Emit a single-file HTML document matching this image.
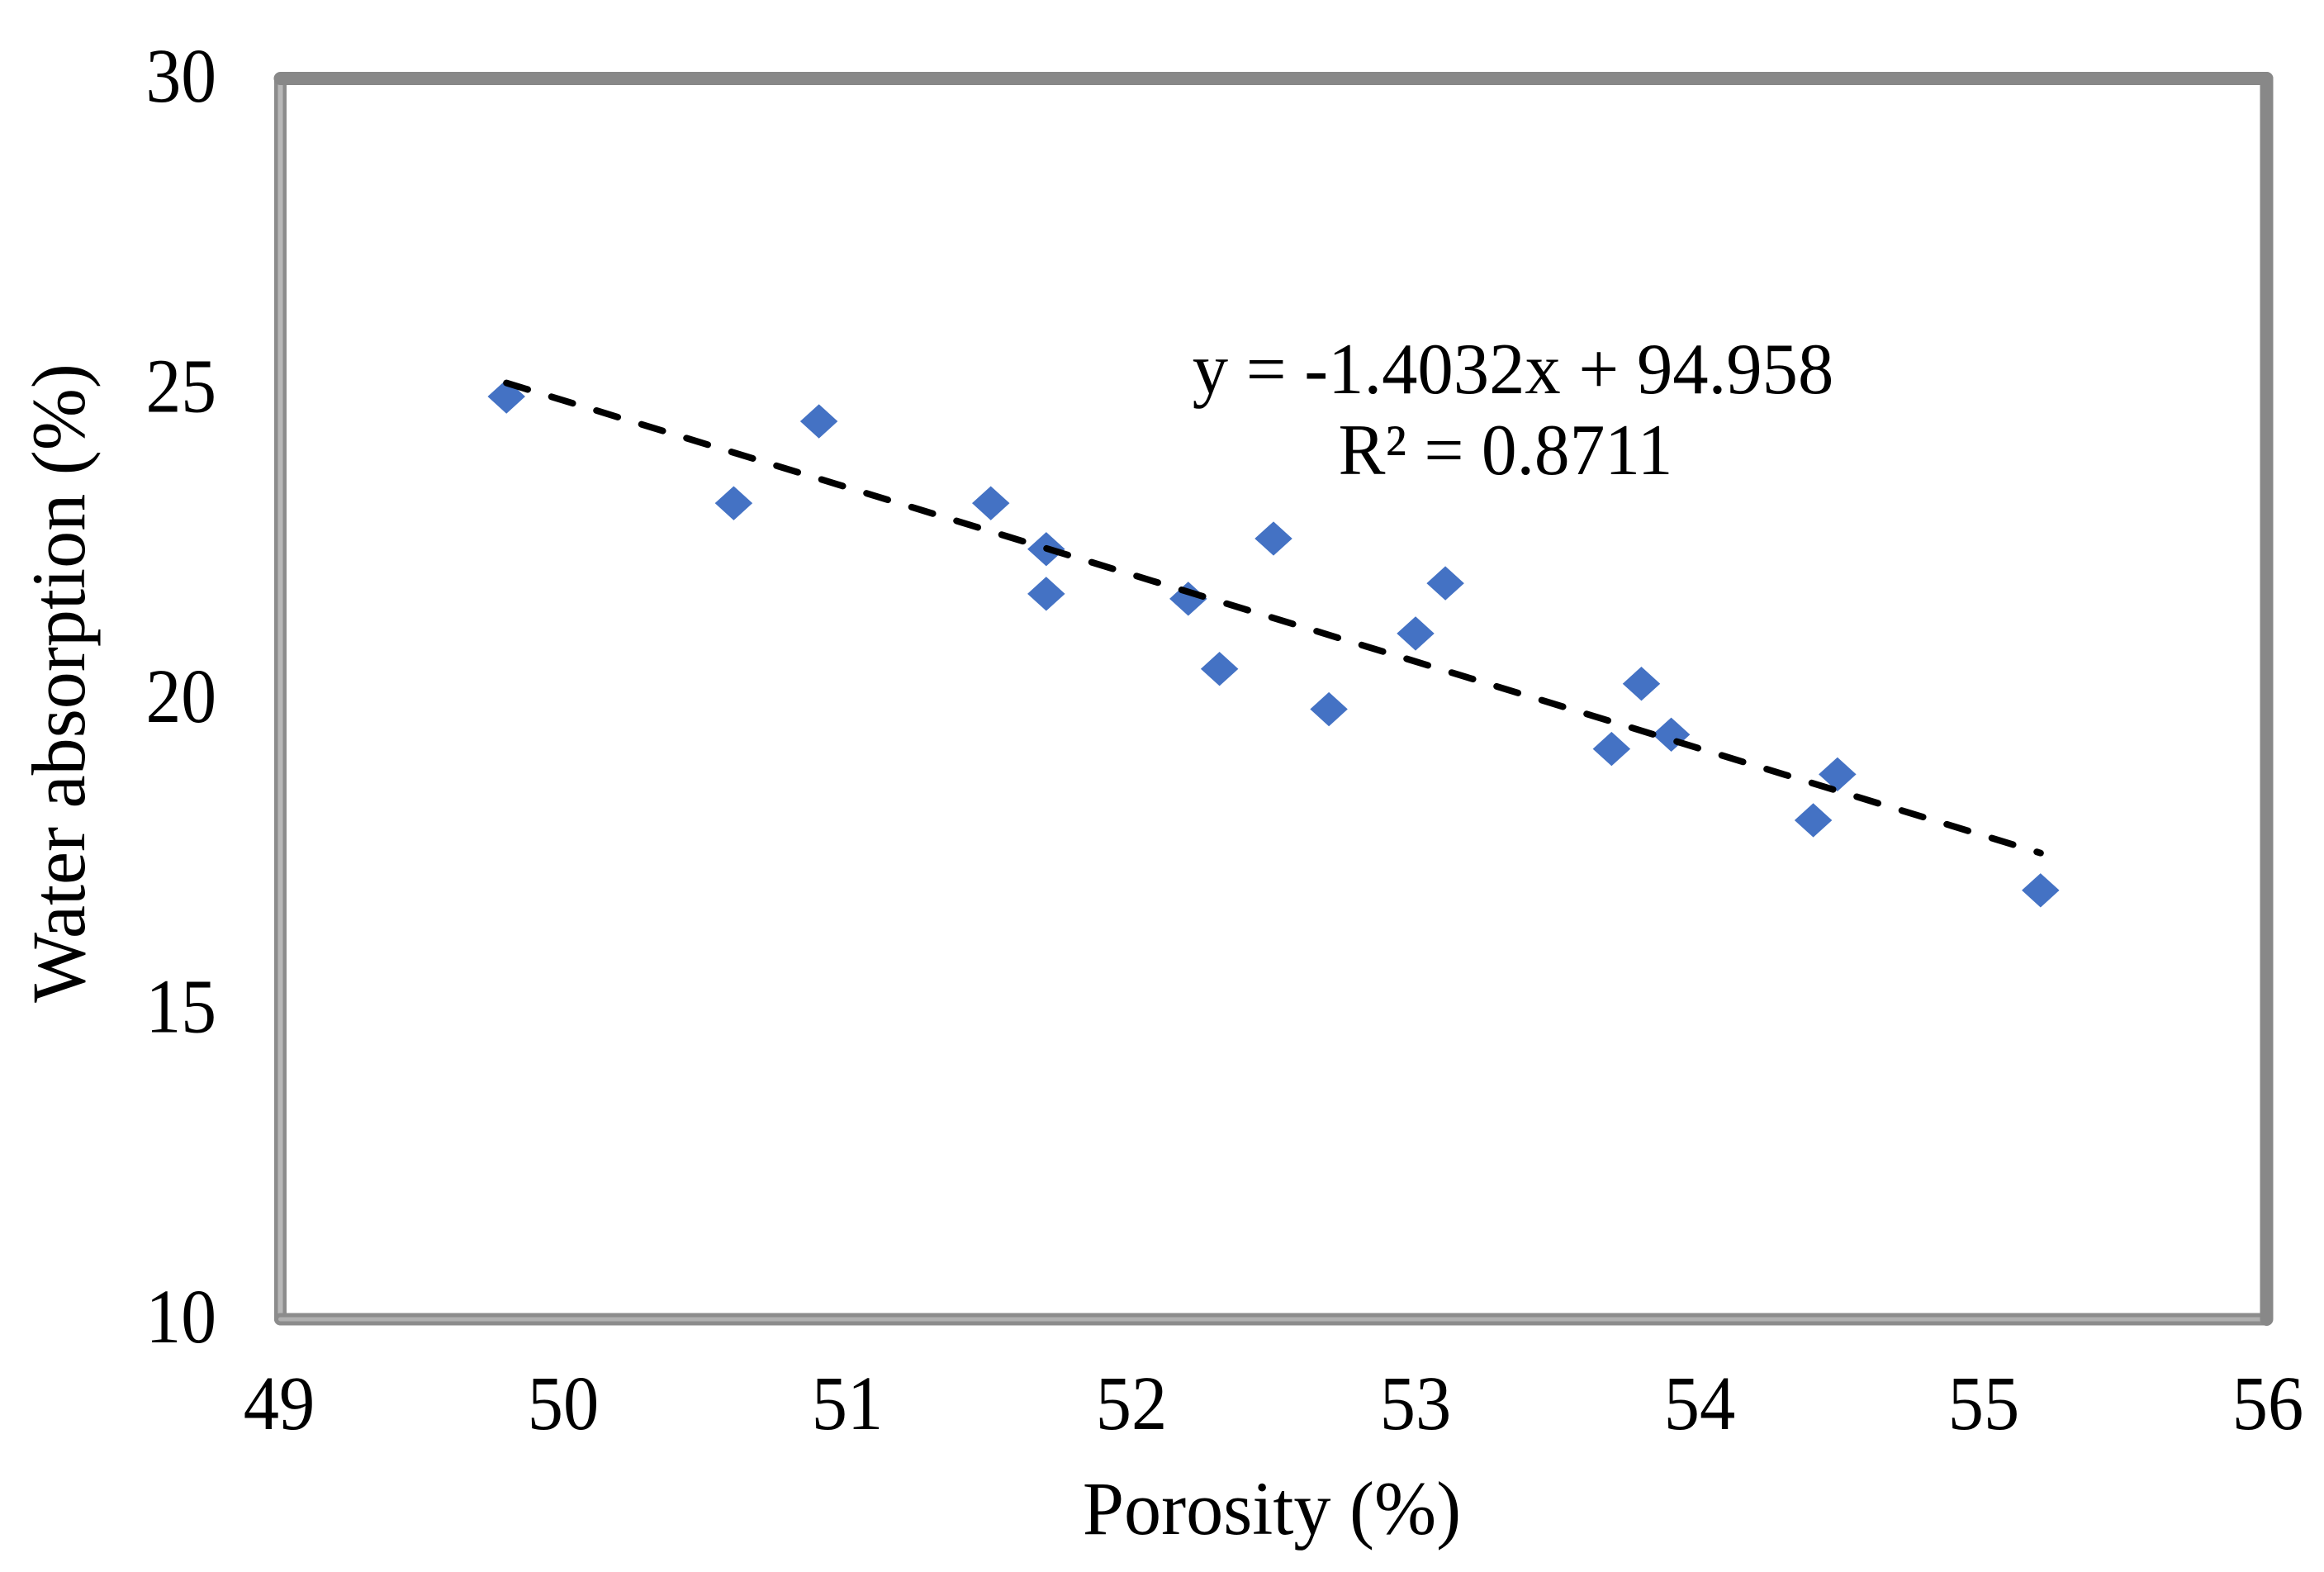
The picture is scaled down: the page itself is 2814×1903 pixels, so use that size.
<!DOCTYPE html>
<html lang="en">
<head>
<meta charset="utf-8">
<title>Water absorption vs porosity</title>
<style>
html,body{margin:0;padding:0;background:#fff;width:2814px;height:1903px;overflow:hidden}
svg{display:block}
text{font-family:"Liberation Serif",serif;fill:#000;font-size:88px}
</style>
</head>
<body>
<svg id="chart" width="2814" height="1903" viewBox="0 0 2814 1903" xmlns="http://www.w3.org/2000/svg">
  <rect x="0" y="0" width="2814" height="1903" fill="#ffffff"/>
  <g id="frame"></g>
  <g id="xticks"></g>
  <g id="yticks"></g>
  <g id="points"></g>
  <line id="trend" stroke="#000" stroke-width="8" stroke-linecap="round" stroke-dasharray="27 30" fill="none"/>
  <text transform="translate(1540 1857) scale(0.98 1)" text-anchor="middle" style="font-size:92px">Porosity (%)</text>
  <text transform="translate(102 827) rotate(-90) scale(0.98 1)" text-anchor="middle" style="font-size:92px">Water absorption (%)</text>
  <text transform="translate(1832 476) scale(0.985 1)" text-anchor="middle">y = -1.4032x + 94.958</text>
  <text transform="translate(1823 574) scale(0.97 1)" text-anchor="middle">R² = 0.8711</text>
</svg>
<script>
const xTickValues = [49, 50, 51, 52, 53, 54, 55, 56];
const yTickValues = [10, 15, 20, 25, 30];
const porosity = [49.8, 50.6, 50.9, 51.505, 51.7, 51.7, 52.2, 52.31, 52.5, 52.695, 53.0, 53.105, 53.69, 53.795, 53.9, 54.4, 54.485, 55.2];
const waterAbsorption = [24.86, 23.14, 24.46, 23.14, 22.4, 21.68, 21.6, 20.47, 22.57, 19.82, 21.04, 21.85, 19.18, 20.23, 19.41, 18.03, 18.77, 16.9];
const trendSlope = -1.4032;
const trendIntercept = 94.958;

const NS = 'http://www.w3.org/2000/svg';
const plotLeft = 338, plotRight = 2746, plotTop = 94, plotBottom = 1596;
const xMin = 49, xMax = 56, yMin = 10, yMax = 30;
function sx(v){ return plotLeft + (v - xMin) / (xMax - xMin) * (plotRight - plotLeft); }
function sy(v){ return plotBottom - (v - yMin) / (yMax - yMin) * (plotBottom - plotTop); }

const frame = document.getElementById('frame');
function frameLine(x1, y1, x2, y2, color, width, name){
  const l = document.createElementNS(NS, 'line');
  l.setAttribute('x1', x1); l.setAttribute('y1', y1);
  l.setAttribute('x2', x2); l.setAttribute('y2', y2);
  l.setAttribute('stroke', color); l.setAttribute('stroke-width', width);
  l.setAttribute('stroke-linecap', 'round');
  
  
  frame.appendChild(l);
}
const fL = plotLeft + 1.5, fR = plotRight - 1.5, fT = plotTop + 1, fB = plotBottom + 1;
frameLine(fL, fB, fL, fT, '#8c8c8c', 15, 'frame-left');
frameLine(fL, fB, fL, fT, '#b8b8b8', 6, 'frame-left-highlight');
frameLine(fL, fB, fR, fB, '#8c8c8c', 15, 'frame-bottom');
frameLine(fL, fB, fR, fB, '#b0b0b0', 5, 'frame-bottom-highlight');
frameLine(fL, fT, fR, fT, '#888888', 16, 'frame-top');
frameLine(fR, fT, fR, fB, '#888888', 16, 'frame-right');

const xG = document.getElementById('xticks');
xTickValues.forEach(function(v){
  const t = document.createElementNS(NS, 'text');
  t.setAttribute('transform', 'translate(' + sx(v) + ' 1730) scale(0.93 1)');
  t.setAttribute('text-anchor', 'middle');
  t.setAttribute('style', 'font-size:93px');
  
  
  t.textContent = v;
  xG.appendChild(t);
});

const yG = document.getElementById('yticks');
yTickValues.forEach(function(v){
  const t = document.createElementNS(NS, 'text');
  t.setAttribute('transform', 'translate(262 ' + (sy(v) + 29) + ') scale(0.92 1)');
  t.setAttribute('text-anchor', 'end');
  t.setAttribute('style', 'font-size:93px');
  
  
  t.textContent = v;
  yG.appendChild(t);
});

const pG = document.getElementById('points');
const halfW = 22, halfH = 20;
porosity.forEach(function(v, i){
  const cx = sx(v), cy = sy(waterAbsorption[i]);
  const d = document.createElementNS(NS, 'polygon');
  d.setAttribute('points', [cx, cy - halfH, cx + halfW, cy, cx, cy + halfH, cx - halfW, cy].join(' '));
  d.setAttribute('fill', '#4472c4');
  d.setAttribute('stroke', '#4472c4');
  d.setAttribute('stroke-width', '1');
  
  
  pG.appendChild(d);
});

const trendXStart = Math.min.apply(null, porosity);
const trendXEnd = Math.max.apply(null, porosity);
const trend = document.getElementById('trend');
trend.setAttribute('x1', sx(trendXStart));
trend.setAttribute('y1', sy(trendSlope * trendXStart + trendIntercept));
trend.setAttribute('x2', sx(trendXEnd));
trend.setAttribute('y2', sy(trendSlope * trendXEnd + trendIntercept));
</script>
</body>
</html>
